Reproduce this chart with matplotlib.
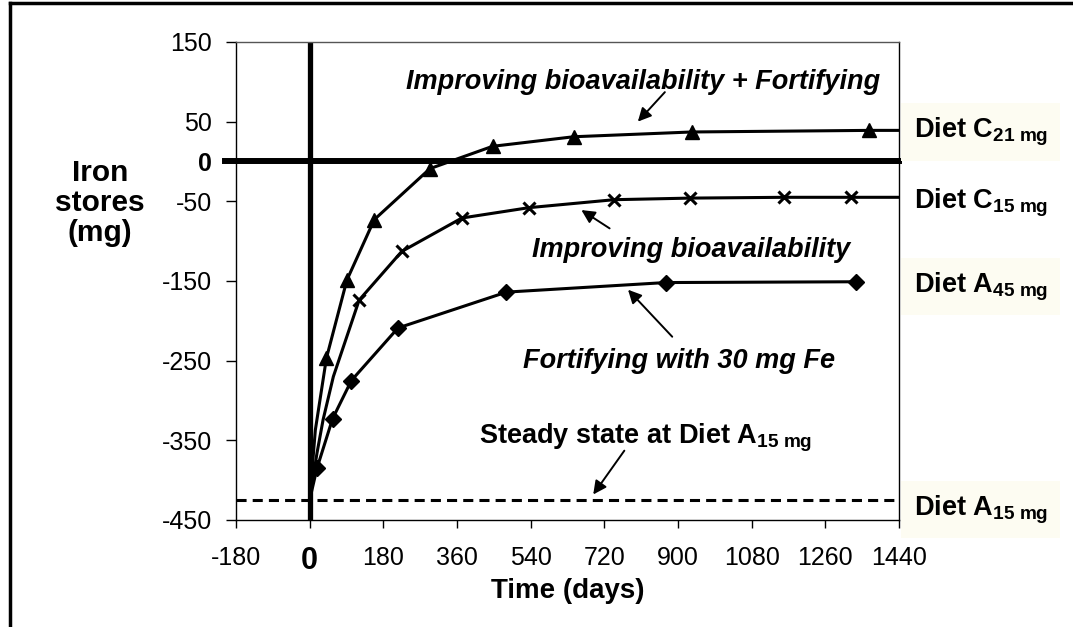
import matplotlib
matplotlib.use("Agg")
import matplotlib.pyplot as plt
from matplotlib.lines import Line2D

plt.rcParams['font.family'] = ['Liberation Sans', 'DejaVu Sans']
plt.rcParams['mathtext.fontset'] = 'custom'
plt.rcParams['mathtext.rm'] = 'Liberation Sans'
plt.rcParams['mathtext.bf'] = 'Liberation Sans:bold'
plt.rcParams['mathtext.it'] = 'Liberation Sans:italic'

# Diet C 21 mg (improving bioavailability + fortifying)
tri_days = [0, 14, 41, 91, 158, 294, 447, 645, 934, 1368, 1440]
tri_vals = [-425, -337, -247, -149, -73, -9, 19, 31, 37, 39, 39]
tri_marks = [2, 3, 4, 5, 6, 7, 8, 9]

# Diet C 15 mg (improving bioavailability)
cross_days = [0, 18, 33, 58, 121, 225, 372, 536, 744, 930, 1159, 1323, 1440]
cross_vals = [-425, -366, -324, -270, -174, -113, -71, -58, -48, -46, -45, -45, -45]
cross_marks = [4, 5, 6, 7, 8, 9, 10, 11]

# Diet A 45 mg (fortifying with 30 mg Fe)
dia_days = [0, 18, 56, 102, 216, 481, 870, 1335]
dia_vals = [-425, -385, -323, -275, -209, -164, -152, -151]
dia_marks = [1, 2, 3, 4, 5, 6, 7]

steady_a15 = -425

x_ticks = [-180, 0, 180, 360, 540, 720, 900, 1080, 1260, 1440]
y_ticks = [-450, -350, -250, -150, -50, 0, 50, 150]

right_labels = ['Diet C$_{\\mathbf{21\\ mg}}$', 'Diet C$_{\\mathbf{15\\ mg}}$',
                'Diet A$_{\\mathbf{45\\ mg}}$', 'Diet A$_{\\mathbf{15\\ mg}}$']
right_label_y = [37, -52, -157, -437]
right_label_bg = [True, False, True, True]

fig = plt.figure(figsize=(10.73, 6.27), dpi=100)
ax = fig.add_axes([0.2199, 0.1707, 0.6179, 0.7624])

ax.set_xlim(-180, 1440)
ax.set_ylim(-450, 150)

# heavy reference lines at 0
ax.axvline(0, color='black', lw=3.8, zorder=2)
ax.axhline(0, xmin=-0.016, xmax=1, color='black', lw=4.3, zorder=2, clip_on=False)
ax.axhline(steady_a15, color='black', lw=2.2, ls=(0, (3.3, 2.0)), zorder=2)

ax.plot(tri_days, tri_vals, color='black', lw=2.2, marker='^', ms=10,
        markevery=tri_marks, zorder=3)
ax.plot(cross_days, cross_vals, color='black', lw=2.2, marker='x', ms=9, mew=2.2,
        markevery=cross_marks, zorder=3)
ax.plot(dia_days, dia_vals, color='black', lw=2.2, marker='D', ms=8,
        markevery=dia_marks, zorder=3)

ax.set_xticks(x_ticks)
ax.set_xticklabels([str(t) for t in x_ticks])
ax.set_yticks(y_ticks)
ax.set_yticklabels([str(t) for t in y_ticks])
ax.tick_params(axis='x', direction='out', length=6, width=1, labelsize=18, pad=13)
ax.tick_params(axis='y', direction='out', length=7, width=1, labelsize=18, pad=10)
for lab in ax.get_xticklabels():
    if lab.get_text() == '0':
        lab.set_fontweight('bold')
        lab.set_fontsize(22)
for lab in ax.get_yticklabels():
    if lab.get_text() == '0':
        lab.set_fontweight('bold')
for sp in ax.spines.values():
    sp.set_linewidth(1)
ax.spines['top'].set_color('#555555')

ax.set_xlabel('Time (days)', fontsize=20, fontweight='bold', va='center')
ax.xaxis.set_label_coords(0.5, -0.148)
ax.set_ylabel('Iron\nstores\n(mg)', fontsize=21.5, fontweight='bold', rotation=0,
              ha='center', va='center', linespacing=1.08)
ax.yaxis.set_label_coords(-0.205, 0.663)

ann_font = dict(fontsize=19.5, fontweight='bold', style='italic', ha='center', va='center')
arrow = dict(arrowstyle='-|>', color='black', lw=1.4, mutation_scale=20, shrinkA=0, shrinkB=0)

ax.text(815, 100, 'Improving bioavailability + Fortifying', **ann_font)
ax.annotate('', xy=(802, 50), xytext=(868, 87), arrowprops=arrow)
ax.text(931, -111, 'Improving bioavailability', **ann_font)
ax.annotate('', xy=(664, -61), xytext=(733, -84), arrowprops=arrow)
ax.text(902, -250, 'Fortifying with 30 mg Fe', **ann_font)
ax.annotate('', xy=(778, -161), xytext=(886, -220), arrowprops=arrow)
ax.text(821, -347, 'Steady state at Diet A$_{\\mathbf{15\\ mg}}$', fontsize=19.5,
        fontweight='bold', ha='center', va='center')
ax.annotate('', xy=(693, -418), xytext=(769, -363), arrowprops=arrow)

for lab, yv, bg in zip(right_labels, right_label_y, right_label_bg):
    box = dict(facecolor='#fdfcf2', edgecolor='none', pad=9) if bg else None
    ax.annotate(lab, xy=(1.022, yv), xycoords=('axes fraction', 'data'),
                fontsize=19.5, fontweight='bold', ha='left', va='center',
                annotation_clip=False, bbox=box)

# outer frame
fig.add_artist(Line2D([10 / 1073, 1.01], [1 - 3 / 627, 1 - 3 / 627],
                      transform=fig.transFigure, color='black', lw=2.5))
fig.add_artist(Line2D([10 / 1073, 10 / 1073], [-0.01, 1 - 3 / 627],
                      transform=fig.transFigure, color='black', lw=2.5))

fig.savefig('out.png', dpi=100)
